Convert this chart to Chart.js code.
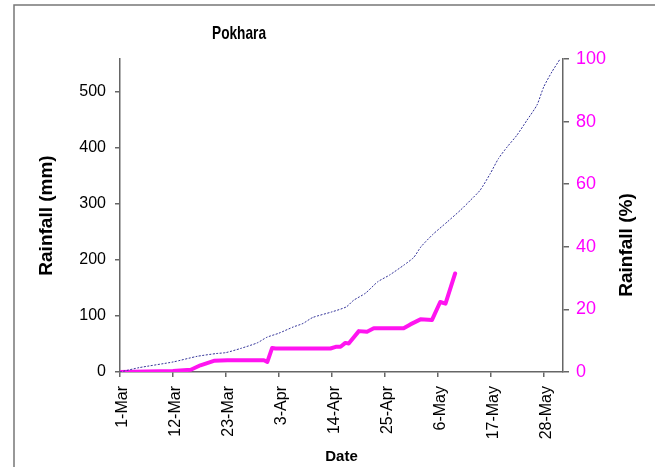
<!DOCTYPE html>
<html>
<head>
<meta charset="utf-8">
<script src="https://cdn.jsdelivr.net/npm/chart.js@4"></script>
<style>
  html, body { margin: 0; padding: 0; background: #fff; }
  #wrap { width: 655px; height: 467px; }
</style>
</head>
<body>
<div id="wrap"><canvas id="c"></canvas></div>
<script>
// days counted from 1-Mar
const tickLabels = ['1-Mar', '12-Mar', '23-Mar', '3-Apr', '14-Apr', '25-Apr', '6-May', '17-May', '28-May']

// cumulative normal rainfall, % of total (dotted line)
const normalDays = [0, 4, 11, 16, 20, 22, 25, 28.5, 30.5, 33, 36, 38, 40, 44, 47, 48.5, 51, 53.5, 56, 59, 61, 62.5, 65, 68, 70.7, 72.8, 74.8, 76.9, 78.6, 80.4, 82.4, 84.5, 86.6, 88, 89.7, 91.4]
const normalPct = [0, 1.4, 3.2, 5.0, 5.9, 6.2, 7.5, 9.3, 11.1, 12.4, 14.4, 15.5, 17.4, 19.2, 20.8, 22.9, 25.2, 28.8, 31, 34.2, 36.6, 40, 44, 48, 51.7, 54.9, 58.1, 63.4, 68.2, 71.9, 75.6, 80.4, 85.3, 91.1, 95.9, 100]

// cumulative observed rainfall, mm (thick line)
const obsDays = [0, 11, 14.7, 16.7, 19.5, 22.3, 29.9, 30.6, 31.6, 32.3, 43.7, 44.8, 45.8, 46.8, 47.5, 49.6, 51.3, 52.7, 58.9, 60.3, 62.4, 64.8, 66.5, 67.6, 69.6]
const obsMm = [0, 2, 4, 12, 20, 21, 21, 18, 43, 42, 42, 45, 45, 52, 51, 73, 72, 78, 78, 85, 94, 93, 125, 122, 176]

const toXY = (xs, ys) => xs.map((d, i) => ({ x: d, y: ys[i] }))

const font = "'Liberation Sans', Arial, sans-serif"
const axisGrey = '#666'
const pink = '#ff14f0'

// frame, title and right axis title drawn by hand
const decor = {
  id: 'decor',
  beforeDraw(chart) {
    const ctx = chart.ctx
    ctx.save()
    ctx.strokeStyle = '#777'
    ctx.lineWidth = 1.5
    ctx.beginPath()
    ctx.moveTo(14, 470)
    ctx.lineTo(14, 5)
    ctx.lineTo(660, 5)
    ctx.stroke()
    ctx.restore()
  },
  afterDraw(chart) {
    const ctx = chart.ctx
    const area = chart.chartArea
    ctx.save()
    ctx.fillStyle = '#000'
    ctx.textAlign = 'center'
    ctx.textBaseline = 'middle'
    // narrow-looking title
    ctx.save()
    ctx.translate(area.left + 119, 34)
    ctx.scale(0.72, 1)
    ctx.font = 'bold 19px ' + font
    ctx.fillText('Pokhara', 0, 0)
    ctx.restore()
    // right axis title, reading bottom to top
    ctx.save()
    ctx.translate(area.right + 64, 245)
    ctx.rotate(-Math.PI / 2)
    ctx.font = 'bold 19px ' + font
    ctx.fillText('Rainfall (%)', 0, 0)
    ctx.restore()
    ctx.restore()
  }
}

new Chart(document.getElementById('c'), {
  type: 'line',
  data: {
    datasets: [
      {
        label: 'Normal',
        data: toXY(normalDays, normalPct),
        yAxisID: 'y1',
        borderColor: '#333399',
        borderWidth: 1,
        borderDash: [2, 1.5],
        pointRadius: 0,
        tension: 0.2
      },
      {
        label: 'Observed',
        data: toXY(obsDays, obsMm),
        yAxisID: 'y',
        borderColor: pink,
        borderWidth: 4,
        borderJoinStyle: 'round',
        borderCapStyle: 'round',
        pointRadius: 0,
        tension: 0
      }
    ]
  },
  options: {
    responsive: true,
    maintainAspectRatio: false,
    animation: false,
    layout: { padding: { top: 59, left: 0, right: 0, bottom: 0 } },
    plugins: {
      legend: { display: false },
      tooltip: { enabled: false }
    },
    scales: {
      x: {
        type: 'linear',
        min: 0,
        max: 92,
        afterFit: s => { s.height = 95 },
        grid: { drawOnChartArea: false, tickLength: 5, color: axisGrey, lineWidth: 1.5 },
        border: { color: axisGrey, width: 1.5 },
        ticks: {
          stepSize: 11,
          includeBounds: false,
          autoSkip: false,
          minRotation: 90,
          maxRotation: 90,
          padding: 9,
          labelOffset: 3,
          color: '#000',
          font: { family: font, size: 16 },
          callback: (v) => tickLabels[Math.round(v / 11)]
        },
        title: {
          display: true,
          text: 'Date',
          color: '#000',
          font: { family: font, size: 15, weight: 'bold' },
          padding: { top: 0, bottom: 1 }
        }
      },
      y: {
        position: 'left',
        min: 0,
        max: 559,
        afterFit: s => { s.width = 120 },
        grid: { drawOnChartArea: false, tickLength: 5, color: axisGrey, lineWidth: 1.5 },
        border: { color: axisGrey, width: 1.5 },
        ticks: {
          stepSize: 100,
          includeBounds: false,
          padding: 9,
          color: '#000',
          font: { family: font, size: 16 }
        },
        title: {
          display: true,
          text: 'Rainfall (mm)',
          color: '#000',
          font: { family: font, size: 19, weight: 'bold' },
          padding: { top: 35, bottom: 0 }
        }
      },
      y1: {
        position: 'right',
        min: 0,
        max: 100,
        afterFit: s => { s.width = 92 },
        grid: { drawOnChartArea: false, tickLength: 6, color: axisGrey, lineWidth: 1.5 },
        border: { color: axisGrey, width: 1.5 },
        ticks: {
          stepSize: 20,
          padding: 7,
          color: '#ff00ff',
          font: { family: font, size: 18 }
        },
        title: { display: false }
      }
    }
  },
  plugins: [decor]
})
</script>
</body>
</html>
